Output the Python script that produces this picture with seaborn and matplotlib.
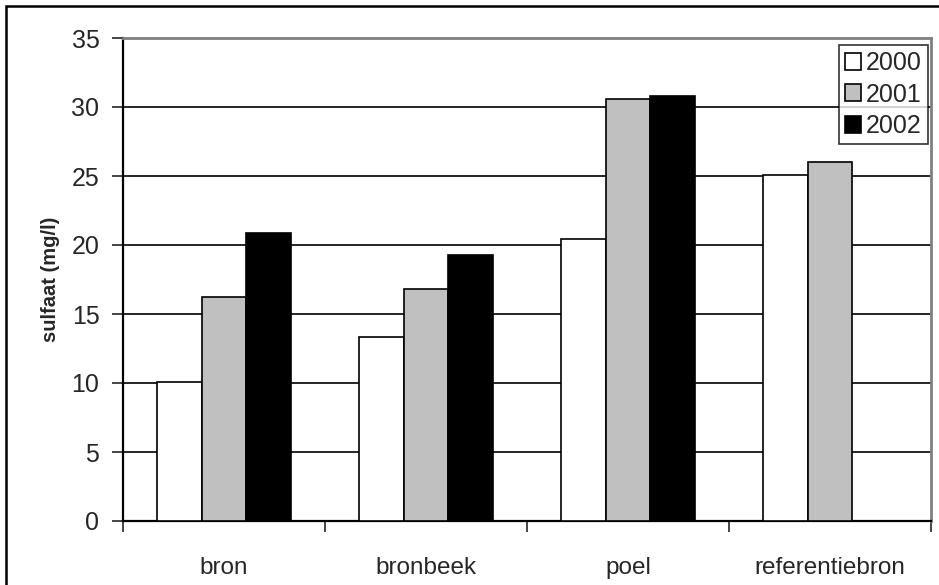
import numpy as np
import pandas as pd
import matplotlib
matplotlib.use("Agg")
import matplotlib.pyplot as plt
import seaborn as sns
from matplotlib.patches import Rectangle

# data
locations = ["bron", "bronbeek", "poel", "referentiebron"]
years = ["2000", "2001", "2002"]
sulfaat_2000 = [10.1, 13.3, 20.4, 25.1]
sulfaat_2001 = [16.2, 16.8, 30.6, 26.0]
sulfaat_2002 = [20.9, 19.3, 30.8, np.nan]
yticks = [0, 5, 10, 15, 20, 25, 30, 35]

sns.set_style("white")
plt.rcParams['font.family'] = ['Liberation Sans', 'DejaVu Sans']

df = pd.DataFrame({
    "locatie": locations * 3,
    "jaar": [y for y in years for _ in locations],
    "sulfaat": sulfaat_2000 + sulfaat_2001 + sulfaat_2002,
})

fig = plt.figure(figsize=(9.39, 5.85), dpi=100)
ax = fig.add_axes([123 / 939, 1 - 521 / 585, (931 - 123) / 939, (521 - 38) / 585])

palette = {"2000": "white", "2001": "#c0c0c0", "2002": "black"}
sns.barplot(data=df, x="locatie", y="sulfaat", hue="jaar", order=locations,
            hue_order=years, palette=palette, width=0.665, gap=0,
            edgecolor="black", linewidth=1.2, saturation=1, ax=ax, zorder=3)

# axes styling, Excel look
ax.set_ylim(0, 35)
ax.set_xlim(-0.5, len(locations) - 0.5)
ax.set_yticks(yticks)
ax.set_yticklabels([str(t) for t in yticks], fontsize=18)
ax.yaxis.grid(True, color="black", linewidth=1.2, zorder=0)
ax.set_axisbelow(True)
ax.tick_params(axis="y", direction="out", length=8, width=1.2, pad=9, left=True)

ax.set_xticks(np.arange(-0.5, len(locations), 1.0))
ax.set_xticklabels([])
ax.set_xticks(range(len(locations)), minor=True)
ax.set_xticklabels(locations, minor=True, fontsize=17.5)
ax.tick_params(axis="x", which="major", direction="out", length=8, width=1.2, bottom=True)
ax.tick_params(axis="x", which="minor", length=0, pad=26)

ax.set_xlabel("")
ax.set_ylabel("sulfaat (mg/l)", fontsize=14.5, fontweight="bold", labelpad=8)

for side in ["left", "bottom"]:
    ax.spines[side].set_color("black")
    ax.spines[side].set_linewidth(1.6)
for side in ["top", "right"]:
    ax.spines[side].set_color("#808080")
    ax.spines[side].set_linewidth(2)

leg = ax.legend(loc="upper right", bbox_to_anchor=(0.9965, 0.986), fontsize=18,
                frameon=True, fancybox=False, edgecolor="black",
                handlelength=0.65, handleheight=0.65, handletextpad=0.2,
                borderpad=0.25, labelspacing=0.3, borderaxespad=0)
leg.get_frame().set_linewidth(1.2)

# outer chart border (left and top visible)
fig.patches.append(Rectangle((6 / 939, -0.05), 1.1, 1 - 6 / 585 + 0.05,
                             transform=fig.transFigure, fill=False,
                             edgecolor="black", linewidth=1.8))

fig.savefig("out.png", dpi=100)
